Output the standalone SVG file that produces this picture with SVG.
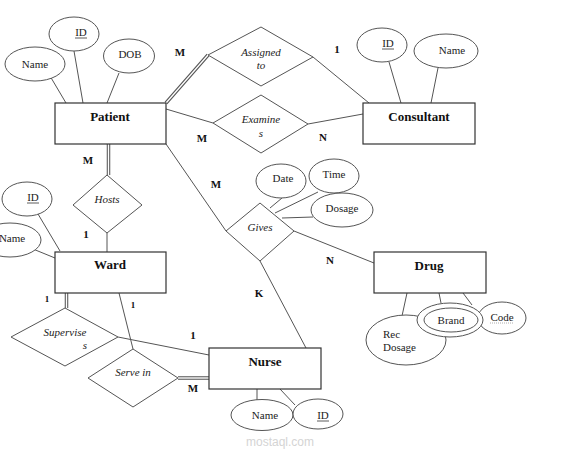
<svg xmlns="http://www.w3.org/2000/svg" width="563" height="456" viewBox="0 0 563 456">
<style>
.bg{fill:#fff}
.ent{fill:#fff;stroke:#333;stroke-width:1.2}
.att{fill:#fff;stroke:#555;stroke-width:1}
.rel{fill:#fff;stroke:#555;stroke-width:1}
.ln{fill:none;stroke:#555;stroke-width:1}
.dbo{fill:none;stroke:#555;stroke-width:3.5}
.dbi{fill:none;stroke:#fff;stroke-width:1.4}
.et{font-family:"Liberation Serif",serif;font-weight:bold;font-size:13px;fill:#111;text-anchor:middle}
.at{font-family:"Liberation Serif",serif;font-size:11px;fill:#222;text-anchor:middle}
.rt{font-family:"Liberation Serif",serif;font-style:italic;font-size:11px;fill:#222;text-anchor:middle}
.ct{font-family:"Liberation Serif",serif;font-weight:bold;font-size:11px;fill:#111;text-anchor:middle}
.cs{font-family:"Liberation Serif",serif;font-weight:bold;font-size:9px;fill:#111;text-anchor:middle}
.ul{stroke:#333;stroke-width:0.8}
.wm{font-family:"Liberation Sans",sans-serif;font-size:12px;fill:#d4d4d4;text-anchor:middle}
</style>
<rect class="bg" x="0" y="0" width="563" height="456"/>

<g id="connectors">
  <!-- Patient attributes -->
  <line class="ln" x1="50" y1="76" x2="66" y2="103"/>
  <line class="ln" x1="74" y1="51" x2="83" y2="103"/>
  <line class="ln" x1="119" y1="73" x2="107" y2="103"/>
  <!-- Consultant attributes -->
  <line class="ln" x1="389" y1="62" x2="401" y2="103"/>
  <line class="ln" x1="438" y1="68" x2="431" y2="103"/>
  <!-- Patient - Assigned to (double) -->
  <path class="dbo" d="M166,103 L208,55"/>
  <path class="dbi" d="M166,103 L208,55"/>
  <line class="ln" x1="313" y1="57" x2="369" y2="103"/>
  <!-- Examines -->
  <line class="ln" x1="166" y1="109" x2="213" y2="123"/>
  <line class="ln" x1="308" y1="124" x2="363" y2="114"/>
  <!-- Hosts (double to Patient) -->
  <path class="dbo" d="M108.5,144 L108.5,175"/>
  <path class="dbi" d="M108.5,144 L108.5,175"/>
  <line class="ln" x1="107" y1="233" x2="107" y2="252"/>
  <!-- Ward attributes -->
  <line class="ln" x1="38" y1="214" x2="60" y2="251"/>
  <line class="ln" x1="33" y1="249" x2="55" y2="258"/>
  <!-- Gives -->
  <line class="ln" x1="166" y1="144" x2="226" y2="231"/>
  <line class="ln" x1="294" y1="231" x2="374" y2="263"/>
  <line class="ln" x1="260" y1="261" x2="306" y2="348"/>
  <line class="ln" x1="282" y1="198" x2="270" y2="208"/>
  <line class="ln" x1="318" y1="192" x2="275" y2="213"/>
  <line class="ln" x1="313" y1="217" x2="282" y2="218"/>
  <!-- Drug attributes -->
  <line class="ln" x1="407" y1="293" x2="402" y2="316"/>
  <line class="ln" x1="439" y1="293" x2="441" y2="303"/>
  <line class="ln" x1="463" y1="293" x2="472" y2="305"/>
  <!-- Supervises (double to Ward) -->
  <path class="dbo" d="M66.5,293 L66.5,308"/>
  <path class="dbi" d="M66.5,293 L66.5,308"/>
  <line class="ln" x1="118" y1="337" x2="209" y2="355"/>
  <!-- Serve in -->
  <line class="ln" x1="119" y1="293" x2="133" y2="349"/>
  <path class="dbo" d="M178,378 L209,378"/>
  <path class="dbi" d="M178,378 L209,378"/>
  <!-- Nurse attributes -->
  <line class="ln" x1="257" y1="389" x2="257" y2="400"/>
  <line class="ln" x1="280" y1="389" x2="295" y2="405"/>
</g>

<g id="patient">
  <rect class="ent" x="55" y="103" width="111" height="41"/>
  <text class="et" x="110" y="121">Patient</text>
</g>
<g id="patient-name">
  <ellipse class="att" cx="35" cy="64" rx="30" ry="17"/>
  <text class="at" x="35" y="68">Name</text>
</g>
<g id="patient-id">
  <ellipse class="att" cx="74" cy="34" rx="25" ry="17"/>
  <text class="at" x="81" y="36">ID</text>
  <line class="ul" x1="75" y1="38" x2="87" y2="38"/>
</g>
<g id="patient-dob">
  <ellipse class="att" cx="129" cy="56" rx="25.5" ry="17"/>
  <text class="at" x="130" y="58">DOB</text>
</g>

<g id="consultant">
  <rect class="ent" x="363" y="103" width="112" height="41"/>
  <text class="et" x="419" y="121">Consultant</text>
</g>
<g id="consultant-id">
  <ellipse class="att" cx="382" cy="45" rx="25" ry="17"/>
  <text class="at" x="388" y="47">ID</text>
  <line class="ul" x1="382" y1="49" x2="394" y2="49"/>
</g>
<g id="consultant-name">
  <ellipse class="att" cx="446" cy="51" rx="32" ry="17"/>
  <text class="at" x="452" y="54">Name</text>
</g>

<g id="assigned-to">
  <polygon class="rel" points="208,55 261,27 313,57 261,86"/>
  <text class="rt" x="261" y="56">Assigned</text>
  <text class="rt" x="261" y="69">to</text>
</g>
<g id="examines">
  <polygon class="rel" points="213,123 261,95 308,124 261,153"/>
  <text class="rt" x="261" y="123">Examine</text>
  <text class="rt" x="261" y="137">s</text>
</g>

<g id="hosts">
  <polygon class="rel" points="73,205 107,175 142,205 107,233"/>
  <text class="rt" x="107" y="203">Hosts</text>
</g>

<g id="ward">
  <rect class="ent" x="55" y="252" width="111" height="41"/>
  <text class="et" x="110" y="269">Ward</text>
</g>
<g id="ward-id">
  <ellipse class="att" cx="27" cy="199" rx="25" ry="17"/>
  <text class="at" x="33" y="201">ID</text>
  <line class="ul" x1="27" y1="203" x2="39" y2="203"/>
</g>
<g id="ward-name">
  <ellipse class="att" cx="10" cy="240" rx="31" ry="17"/>
  <text class="at" x="12" y="242">Name</text>
</g>

<g id="gives">
  <polygon class="rel" points="226,231 260,203 294,231 260,261"/>
  <text class="rt" x="260" y="231">Gives</text>
</g>
<g id="gives-date">
  <ellipse class="att" cx="281" cy="181" rx="25" ry="17"/>
  <text class="at" x="283" y="182">Date</text>
</g>
<g id="gives-time">
  <ellipse class="att" cx="334" cy="176" rx="25" ry="17"/>
  <text class="at" x="334" y="178">Time</text>
</g>
<g id="gives-dosage">
  <ellipse class="att" cx="342" cy="210" rx="31" ry="17"/>
  <text class="at" x="342" y="212">Dosage</text>
</g>

<g id="drug">
  <rect class="ent" x="374" y="252" width="112" height="41"/>
  <text class="et" x="429" y="270">Drug</text>
</g>
<g id="drug-recdosage">
  <ellipse class="att" cx="406" cy="340" rx="40" ry="25"/>
  <text class="at" x="383" y="338" style="text-anchor:start">Rec</text>
  <text class="at" x="383" y="351" style="text-anchor:start">Dosage</text>
</g>
<g id="drug-code">
  <ellipse class="att" cx="502" cy="318" rx="24" ry="16"/>
  <text class="at" x="502" y="321">Code</text>
  <line x1="490" y1="323" x2="514" y2="323" stroke="#999" stroke-width="0.8" stroke-dasharray="1,1"/>
</g>
<g id="drug-brand">
  <ellipse class="att" cx="450" cy="320" rx="33" ry="17"/>
  <ellipse class="att" cx="451" cy="320" rx="27" ry="12"/>
  <text class="at" x="451" y="324">Brand</text>
</g>

<g id="supervises">
  <polygon class="rel" points="11,337 65,308 118,337 65,366"/>
  <text class="rt" x="65" y="336">Supervise</text>
  <text class="rt" x="85" y="349">s</text>
</g>
<g id="serve-in">
  <polygon class="rel" points="88,378 133,349 178,378 133,407"/>
  <text class="rt" x="133" y="376">Serve in</text>
</g>

<g id="nurse">
  <rect class="ent" x="209" y="348" width="112" height="41"/>
  <text class="et" x="265" y="366">Nurse</text>
</g>
<g id="nurse-name">
  <ellipse class="att" cx="262" cy="415" rx="31" ry="15.5"/>
  <text class="at" x="265" y="419">Name</text>
</g>
<g id="nurse-id">
  <ellipse class="att" cx="318" cy="414" rx="25" ry="15"/>
  <text class="at" x="323" y="419">ID</text>
  <line class="ul" x1="317" y1="421" x2="329" y2="421"/>
</g>

<g id="cardinalities">
  <text class="ct" x="180" y="56">M</text>
  <text class="ct" x="337" y="53">1</text>
  <text class="ct" x="202" y="142">M</text>
  <text class="ct" x="323" y="141">N</text>
  <text class="ct" x="88" y="164">M</text>
  <text class="ct" x="86" y="238">1</text>
  <text class="ct" x="216" y="188">M</text>
  <text class="ct" x="330" y="264">N</text>
  <text class="ct" x="259" y="297">K</text>
  <text class="cs" x="47" y="302">1</text>
  <text class="cs" x="133" y="308">1</text>
  <text class="ct" x="193" y="339">1</text>
  <text class="ct" x="193" y="392">M</text>
</g>

<g id="watermark">
  <text class="wm" x="280" y="446">mostaql.com</text>
</g>
</svg>
